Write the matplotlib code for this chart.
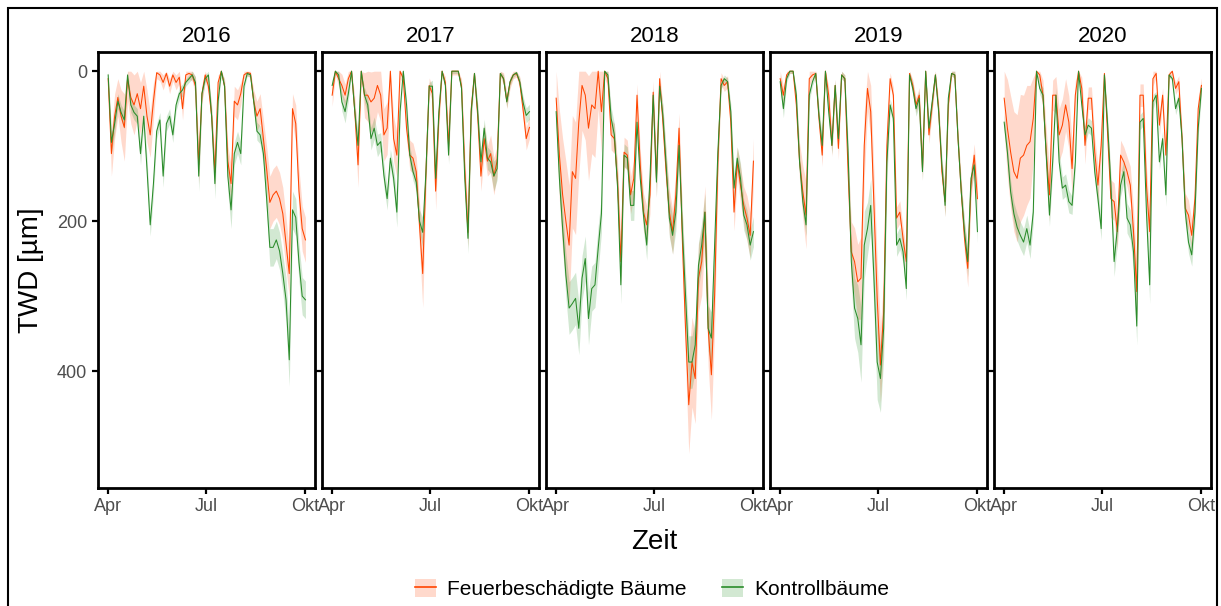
import numpy as np
import matplotlib
matplotlib.use("Agg")
import matplotlib.pyplot as plt
from matplotlib.patches import Rectangle, Patch
from matplotlib.lines import Line2D
from matplotlib.legend_handler import HandlerTuple

plt.rcParams['font.family'] = ['Liberation Sans', 'DejaVu Sans']

# ---------------- data ----------------
years = ["2016", "2017", "2018", "2019", "2020"]
step_days = 3                      # one value every 3 days from 1 April
month_ticks = [0, 91, 183]         # days after 1 April
month_labels = ["Apr", "Jul", "Okt"]
y_ticks = [0, 200, 400]
series_names = ["Feuerbeschädigte Bäume", "Kontrollbäume"]

# TWD [µm], mean values
fire_2016 = [10, 110, 60, 35, 60, 75, 10, 35, 45, 30, 50, 20, 60, 85, 40, 2, 5, 15, 3, 20, 5, 15, 8, 50, 5, 3, 5, 20, 125, 30, 5,
             20, 60, 135, 15, 0, 20, 120, 150, 40, 45, 30, 5, 2, 3, 40, 60, 50, 90, 130, 175, 165, 160, 170, 190, 230, 270, 50, 70, 160, 210, 225]
ctrl_2016 = [5, 95, 70, 40, 55, 65, 5, 45, 55, 60, 110, 60, 130, 205, 150, 80, 65, 140, 70, 60, 85, 45, 30, 25, 15, 10, 5, 15, 140, 30, 10,
             5, 60, 150, 40, 0, 20, 140, 185, 110, 95, 110, 20, 3, 5, 40, 80, 85, 110, 170, 235, 235, 225, 240, 270, 305, 385, 185, 195, 255, 300, 305]
fire_2017 = [32, 0, 10, 19, 32, 10, 0, 54, 125, 0, 32, 32, 41, 36, 19, 32, 85, 76, 0, 90, 112, 0, 10, 76, 112, 116, 134, 205, 270, 134, 19,
             30, 160, 60, 0, 15, 100, 0, 0, 0, 20, 130, 215, 50, 3, 60, 140, 90, 120, 110, 140, 120, 3, 10, 40, 15, 5, 3, 15, 50, 90, 75]
ctrl_2017 = [19, 0, 5, 41, 54, 30, 0, 54, 99, 0, 32, 45, 90, 76, 99, 94, 139, 170, 116, 143, 188, 54, 0, 45, 112, 134, 148, 200, 215, 134, 20,
             20, 143, 54, 0, 19, 112, 0, 0, 0, 23, 143, 223, 54, 3, 54, 121, 76, 116, 121, 140, 130, 3, 10, 41, 14, 5, 2, 14, 41, 59, 54]
fire_2018 = [36, 112, 165, 200, 232, 134, 143, 68, 19, 32, 76, 45, 50, 0, 54, 0, 10, 85, 90, 148, 254, 108, 112, 165, 143, 32, 125, 188, 205, 165, 28,
             143, 10, 68, 134, 188, 214, 165, 76, 223, 343, 445, 388, 410, 276, 254, 188, 343, 405, 299, 121, 10, 19, 14, 68, 188, 121, 152, 179, 196, 219, 120]
ctrl_2018 = [54, 143, 210, 272, 316, 310, 303, 343, 276, 250, 330, 290, 285, 236, 190, 0, 5, 63, 85, 156, 285, 112, 116, 179, 179, 68, 143, 192, 232, 143, 32,
             148, 20, 59, 125, 196, 219, 188, 99, 210, 299, 388, 388, 365, 259, 232, 188, 343, 356, 232, 108, 19, 10, 14, 54, 156, 116, 143, 192, 205, 232, 214]
fire_2019 = [10, 32, 5, 0, 0, 45, 121, 161, 192, 10, 5, 3, 63, 112, 0, 32, 99, 19, 103, 5, 10, 134, 241, 254, 281, 276, 99, 23, 54, 179, 303,
             392, 321, 99, 10, 32, 196, 188, 223, 254, 3, 19, 45, 32, 130, 0, 85, 45, 5, 50, 134, 174, 45, 3, 5, 90, 161, 223, 263, 152, 112, 170]
ctrl_2019 = [14, 50, 10, 0, 0, 32, 121, 174, 205, 32, 14, 3, 59, 99, 0, 54, 99, 19, 90, 5, 10, 108, 254, 316, 330, 365, 232, 210, 179, 276, 388,
             410, 343, 121, 45, 63, 232, 223, 241, 290, 5, 23, 50, 36, 134, 0, 76, 41, 5, 54, 125, 179, 36, 3, 5, 90, 161, 214, 254, 143, 125, 214]
fire_2020 = [36, 76, 108, 134, 143, 116, 112, 99, 94, 63, 0, 5, 32, 108, 165, 32, 32, 85, 72, 45, 68, 130, 32, 0, 23, 99, 36, 36, 108, 152, 99,
             3, 85, 170, 174, 214, 112, 121, 134, 152, 214, 294, 32, 32, 152, 214, 10, 3, 72, 32, 112, 5, 0, 23, 14, 90, 183, 192, 219, 170, 50, 19]
ctrl_2020 = [68, 108, 161, 190, 208, 219, 228, 210, 232, 188, 0, 23, 32, 112, 192, 121, 32, 121, 156, 152, 174, 179, 121, 0, 45, 85, 72, 76, 134, 170, 210,
             5, 72, 152, 254, 210, 152, 134, 196, 205, 241, 340, 68, 63, 188, 285, 41, 32, 121, 90, 165, 5, 10, 50, 36, 90, 188, 228, 245, 188, 76, 23]

# half-widths of the shaded bands [µm]
fire_sd_2016 = [15, 30, 30, 25, 35, 45, 30, 35, 40, 35, 35, 30, 35, 30, 25, 8, 8, 10, 8, 10, 8, 10, 8, 15, 8, 8, 8, 12, 25, 12, 8,
                10, 15, 20, 10, 5, 10, 20, 25, 20, 20, 15, 5, 5, 5, 15, 20, 20, 25, 30, 35, 35, 35, 35, 35, 35, 30, 20, 25, 30, 30, 30]
ctrl_sd_2016 = [5, 15, 12, 10, 10, 12, 5, 10, 10, 10, 15, 10, 15, 15, 15, 10, 10, 15, 10, 10, 10, 8, 8, 8, 5, 5, 5, 8, 20, 8, 5,
                5, 10, 20, 8, 3, 8, 20, 25, 15, 15, 15, 5, 3, 3, 8, 12, 12, 15, 20, 25, 25, 25, 25, 25, 30, 35, 25, 25, 25, 25, 25]
fire_sd_2017 = [15, 5, 10, 15, 15, 10, 5, 20, 30, 5, 30, 35, 40, 40, 35, 35, 35, 35, 25, 30, 30, 10, 8, 15, 20, 20, 20, 30, 45, 25, 10,
                10, 25, 15, 5, 8, 20, 5, 5, 5, 10, 20, 20, 15, 5, 15, 20, 20, 20, 25, 25, 20, 5, 8, 10, 8, 5, 5, 8, 12, 15, 15]
ctrl_sd_2017 = [8, 3, 5, 12, 15, 10, 3, 10, 15, 3, 10, 12, 15, 15, 15, 12, 15, 15, 12, 15, 20, 8, 3, 8, 12, 12, 12, 15, 20, 15, 5,
                8, 15, 10, 3, 5, 12, 3, 3, 3, 8, 15, 20, 10, 3, 10, 15, 12, 15, 15, 20, 15, 3, 5, 8, 5, 3, 3, 5, 8, 10, 10]
fire_sd_2018 = [40, 60, 75, 80, 80, 75, 75, 70, 60, 60, 70, 65, 65, 50, 55, 10, 10, 20, 20, 25, 30, 20, 20, 25, 25, 15, 20, 25, 25, 25, 15,
                25, 10, 20, 25, 30, 30, 30, 20, 35, 45, 65, 60, 60, 45, 45, 35, 50, 60, 45, 25, 8, 8, 8, 15, 25, 20, 25, 25, 30, 30, 30]
ctrl_sd_2018 = [15, 20, 25, 30, 35, 35, 35, 35, 30, 30, 35, 30, 30, 30, 25, 5, 5, 15, 15, 20, 25, 15, 15, 20, 20, 12, 15, 20, 20, 20, 10,
                20, 5, 15, 20, 25, 25, 25, 15, 25, 30, 35, 35, 35, 30, 30, 25, 30, 35, 30, 20, 5, 5, 5, 10, 20, 15, 20, 20, 20, 20, 20]
fire_sd_2019 = [10, 12, 5, 3, 3, 12, 25, 35, 45, 10, 5, 5, 12, 15, 3, 12, 15, 8, 15, 5, 5, 20, 40, 45, 50, 55, 45, 30, 35, 45, 50,
                50, 45, 25, 8, 10, 15, 15, 15, 15, 5, 8, 10, 10, 15, 3, 12, 10, 5, 10, 15, 20, 10, 3, 5, 10, 15, 20, 25, 20, 15, 20]
ctrl_sd_2019 = [10, 12, 5, 3, 3, 8, 12, 15, 15, 8, 5, 5, 10, 12, 3, 10, 12, 8, 12, 5, 5, 15, 30, 40, 45, 50, 45, 35, 35, 45, 50,
                45, 40, 25, 8, 10, 15, 15, 15, 15, 5, 8, 10, 10, 12, 3, 10, 10, 5, 8, 12, 15, 8, 3, 5, 8, 12, 15, 20, 15, 12, 15]
fire_sd_2020 = [45, 65, 75, 80, 85, 85, 80, 80, 75, 55, 5, 10, 20, 30, 35, 20, 25, 35, 35, 35, 35, 35, 20, 5, 15, 25, 15, 15, 20, 25, 20,
                5, 15, 25, 25, 25, 20, 20, 20, 25, 30, 35, 15, 15, 25, 25, 10, 5, 15, 10, 15, 5, 5, 8, 8, 12, 20, 20, 20, 20, 15, 10]
ctrl_sd_2020 = [10, 12, 15, 15, 18, 18, 18, 18, 18, 15, 3, 8, 10, 15, 15, 12, 10, 15, 15, 15, 15, 12, 10, 3, 8, 12, 10, 10, 12, 15, 15,
                3, 10, 15, 20, 20, 15, 15, 20, 20, 25, 25, 10, 10, 20, 25, 10, 5, 10, 10, 15, 3, 3, 8, 8, 10, 15, 15, 15, 15, 10, 8]

fire_means = [fire_2016, fire_2017, fire_2018, fire_2019, fire_2020]
ctrl_means = [ctrl_2016, ctrl_2017, ctrl_2018, ctrl_2019, ctrl_2020]
fire_sds = [fire_sd_2016, fire_sd_2017, fire_sd_2018, fire_sd_2019, fire_sd_2020]
ctrl_sds = [ctrl_sd_2016, ctrl_sd_2017, ctrl_sd_2018, ctrl_sd_2019, ctrl_sd_2020]

# ---------------- style ----------------
W, H = 1221, 606
fire_line = "#FF4500"
ctrl_line = "#2A8C2A"
fire_fill = (1.0, 0.27, 0.0, 0.2)
ctrl_fill = (0.13, 0.55, 0.13, 0.2)
grey = "#4D4D4D"

fig = plt.figure(figsize=(W / 100, H / 100), dpi=100)

# outer frame
fig.patches.append(Rectangle((8 / W, -0.01), (1217 - 8) / W, 1 - 8 / H + 0.01,
                             transform=fig.transFigure, fill=False,
                             edgecolor="black", linewidth=1.5))

panel_left = [98.3, 322.3, 546.3, 770.3, 994.3]
panel_w = 217.0
top_px, bot_px = 51.7, 488.0

xlim = (-9.15, 183 + 9.15)
ylim = (556, -26)

for i, yr in enumerate(years):
    ax = fig.add_axes([panel_left[i] / W, 1 - bot_px / H, panel_w / W, (bot_px - top_px) / H])
    f = np.asarray(fire_means[i], float)
    c = np.asarray(ctrl_means[i], float)
    fs = np.asarray(fire_sds[i], float)
    cs = np.asarray(ctrl_sds[i], float)
    nf = min(len(f), len(fs))
    nc = min(len(c), len(cs))
    df = np.arange(nf) * step_days
    dc = np.arange(nc) * step_days
    f, fs, c, cs = f[:nf], fs[:nf], c[:nc], cs[:nc]
    ax.fill_between(df, np.clip(f - fs, 0, None), f + fs, color=fire_fill, linewidth=0)
    ax.fill_between(dc, np.clip(c - cs, 0, None), c + cs, color=ctrl_fill, linewidth=0)
    ax.plot(df, f, color=fire_line, linewidth=0.75)
    ax.plot(dc, c, color=ctrl_line, linewidth=0.75)
    ax.set_xlim(*xlim)
    ax.set_ylim(*ylim)
    ax.set_xticks(month_ticks)
    ax.set_xticklabels(month_labels)
    ax.set_yticks(y_ticks)
    if i == 0:
        ax.set_yticklabels([str(v) for v in y_ticks])
    else:
        ax.set_yticklabels([])
        ax.tick_params(axis="y", length=0)
    for s in ax.spines.values():
        s.set_linewidth(2.0)
        s.set_color("black")
    ax.tick_params(axis="both", direction="out", length=4, width=1.6,
                   colors="black", labelcolor=grey, labelsize=13, pad=3)
    ax.tick_params(axis="y", pad=4)
    ax.set_title(yr, fontsize=16, pad=7, color="black")

fig.text(654 / W, 1 - 542 / H, "Zeit", ha="center", va="center", fontsize=20)
fig.text(31 / W, 1 - 270 / H, "TWD [µm]", ha="center", va="center", rotation=90, fontsize=20)

handles = [
    (Patch(facecolor=fire_fill, edgecolor="none"), Line2D([], [], color=fire_line, linewidth=1.2)),
    (Patch(facecolor=ctrl_fill, edgecolor="none"), Line2D([], [], color=ctrl_line, linewidth=1.2)),
]
fig.legend(handles, series_names, loc="center", bbox_to_anchor=(652 / W, 1 - 589 / H),
           ncol=2, frameon=False, fontsize=15, handlelength=1.0, handleheight=1.0,
           handletextpad=0.55, columnspacing=1.7,
           handler_map={tuple: HandlerTuple(ndivide=1)})

fig.savefig("out.png", dpi=100)
